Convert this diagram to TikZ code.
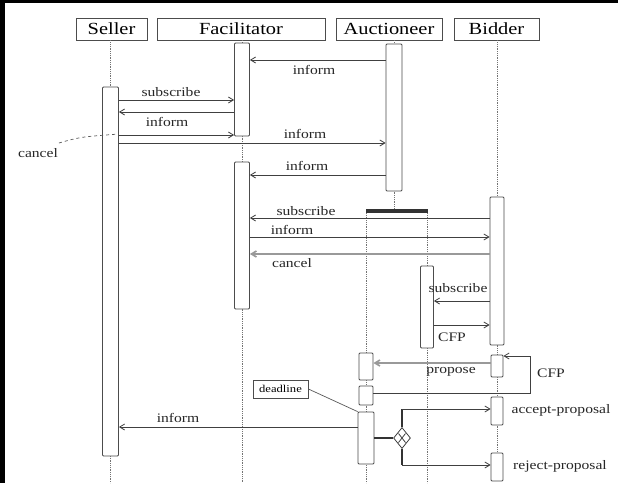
\documentclass[tikz,border=0pt]{standalone}
\usepackage{fontspec}
\setmainfont[FakeStretch=1.2]{Liberation Serif}
\usetikzlibrary{arrows.meta,shapes.geometric,calc}
\begin{document}
\begin{tikzpicture}[x=1pt,y=-1pt,
  hdr/.style={draw=black!70, line width=0.8pt, minimum height=22, inner sep=0pt, font=\fontsize{17}{17}\selectfont},
  bar/.style={draw=black!70, fill=white, line width=0.8pt, inner sep=0pt, rounded corners=1pt},
  life/.style={draw=black!55, densely dotted, line width=0.8pt},
  msg/.style={draw=black!75, line width=0.8pt, -{Straight Barb[length=5pt,width=6pt]}},
  gmsg/.style={msg, draw=black!40, line width=1.6pt},
  thick line/.style={draw=black!80, line width=2.4pt},
  lab/.style={inner sep=0pt, font=\fontsize{13}{13}\selectfont, text=black!85},
  notebox/.style={draw=black!70, line width=0.8pt, minimum width=55, minimum height=18, inner sep=0pt, font=\fontsize{10.5}{10.5}\selectfont},
  noteline/.style={draw=black!65, line width=0.7pt},
]
\useasboundingbox (0,0) rectangle (618,483);
\fill[white] (0,0) rectangle (618,483);
\fill[black] (0,0) rectangle (5,483);
\fill[black] (0,0) rectangle (618,3);

% headers
\node[hdr, minimum width=71] (sh) at (111.5,29) {Seller};
\node[hdr, minimum width=168] (fh) at (241,29) {Facilitator};
\node[hdr, minimum width=106] (ah) at (389,29) {Auctioneer};
\node[hdr, minimum width=85] (bh) at (496.5,29) {Bidder};

% lifeline ends
\coordinate (sEnd) at (110.5,483);
\coordinate (fEnd) at (242,483);
\coordinate (lEnd) at (366,483);
\coordinate (rEnd) at (427,483);
\coordinate (forkL) at (366,213);
\coordinate (forkR) at (427,213);

% lifelines (drawn first, behind bars)
\draw[life] (sh.south -| 110.5,0) -- (110.5,87);
\draw[life] (fh.south -| 242,0) -- (242,483);
\draw[life] (ah.south -| 394,0) -- (394,209);
\draw[life] (forkL) -- (lEnd);
\draw[life] (forkR) -- (rEnd);
\draw[life] (bh.south -| 497,0) -- (497,481);
\draw[life] (110.5,456) -- (sEnd);

% activation bars
\node[bar, minimum width=16, minimum height=369] (sb) at (110.5,271.5) {};
\node[bar, minimum width=15, minimum height=93] (fb1) at (242,89.5) {};
\node[bar, minimum width=15, minimum height=147] (fb2) at (242,235.5) {};
\node[bar, minimum width=16, minimum height=147] (ab1) at (394,117.5) {};
\node[fill=black!80, inner sep=0pt, minimum width=62, minimum height=4] (fork) at (397,211) {};
\node[bar, minimum width=13, minimum height=82] (as) at (427,307) {};
\node[bar, minimum width=14, minimum height=148] (bb1) at (497,271) {};
\node[bar, minimum width=14, minimum height=27] (ax1) at (366,366.5) {};
\node[bar, minimum width=14, minimum height=19] (ax2) at (366,395.5) {};
\node[bar, minimum width=16, minimum height=52] (ax3) at (366,438) {};
\node[bar, minimum width=12, minimum height=22] (bx1) at (497,366) {};
\node[bar, minimum width=12, minimum height=28] (bx2) at (497,411) {};
\node[bar, minimum width=12, minimum height=28] (bx3) at (497,467) {};

% messages
\draw[msg] (ab1.west |- 0,60) -- (fb1.east |- 0,60);
\draw[msg] (sb.east |- 0,100) -- (fb1.west |- 0,100);
\draw[msg] (fb1.west |- 0,112) -- (sb.east |- 0,112);
\draw[msg] (sb.east |- 0,135) -- (fb1.west |- 0,135);
\draw[msg] (sb.east |- 0,143) -- (ab1.west |- 0,143);
\draw[msg] (ab1.west |- 0,175) -- (fb2.east |- 0,175);
\draw[msg] (bb1.west |- 0,218) -- (fb2.east |- 0,218);
\draw[msg] (fb2.east |- 0,237) -- (bb1.west |- 0,237);
\draw[gmsg] (bb1.west |- 0,254) -- (fb2.east |- 0,254);
\draw[msg] (bb1.west |- 0,301) -- (as.east |- 0,301);
\draw[msg] (as.east |- 0,325) -- (bb1.west |- 0,325);
\draw[gmsg] (bx1.west |- 0,363) -- (ax1.east |- 0,363);
\coordinate (lp1) at (530,393);
\coordinate (lp2) at (530,356);
\draw[msg] (ax2.east |- lp1) -- (lp1) -- (lp2) -- (bx1.east |- lp2);
\draw[msg] (ax3.west |- 0,427) -- (sb.east |- 0,427);

% decision
\node[diamond, draw=black!75, line width=0.8pt, fill=white, minimum width=17, minimum height=21, inner sep=0pt] (dia) at (402,438) {};
\draw[black!75, line width=0.8pt] ($(dia.center)+(-3.5,-4.5)$) -- ($(dia.center)+(3.5,4.5)$);
\draw[black!75, line width=0.8pt] ($(dia.center)+(-3.5,4.5)$) -- ($(dia.center)+(3.5,-4.5)$);
\draw[thick line] (ax3.east |- dia.west) -- (dia.west);
\coordinate (acc) at (402,409);
\coordinate (rej) at (402,465);
\draw[thick line] (dia.north) -- (acc);
\draw[thick line] (dia.south) -- (rej);
\draw[msg] (acc) -- (bx2.west |- acc);
\draw[msg] (rej) -- (bx3.west |- rej);

% notes
\node[notebox] (dl) at (280.5,389) {deadline};
\draw[noteline] (dl.east) -- (ax3.north west);
\node[lab] (cn) at (38,153) {cancel};
\coordinate (cs) at (59,143);
\draw[noteline, dashed] (cs) .. controls (80,137) .. (sb.east |- 0,134);

% labels
\node[lab] (l1) at (314,70) {inform};
\node[lab] (l2) at (171,92) {subscribe};
\node[lab] (l3) at (167,122) {inform};
\node[lab] (l4) at (305,134) {inform};
\node[lab] (l5) at (307,166) {inform};
\node[lab] (l6) at (306,211) {subscribe};
\node[lab] (l7) at (292,230) {inform};
\node[lab] (l8) at (292,263) {cancel};
\node[lab] (l9) at (458,288) {subscribe};
\node[lab] (l10) at (452,337) {CFP};
\node[lab] (l11) at (451,372) {propose};
\node[lab] (l12) at (551,373) {CFP};
\node[lab] (l13) at (178,418) {inform};
\node[lab] (l14) at (561,410) {accept-proposal};
\node[lab] (l15) at (560,466) {reject-proposal};
\end{tikzpicture}
\end{document}
